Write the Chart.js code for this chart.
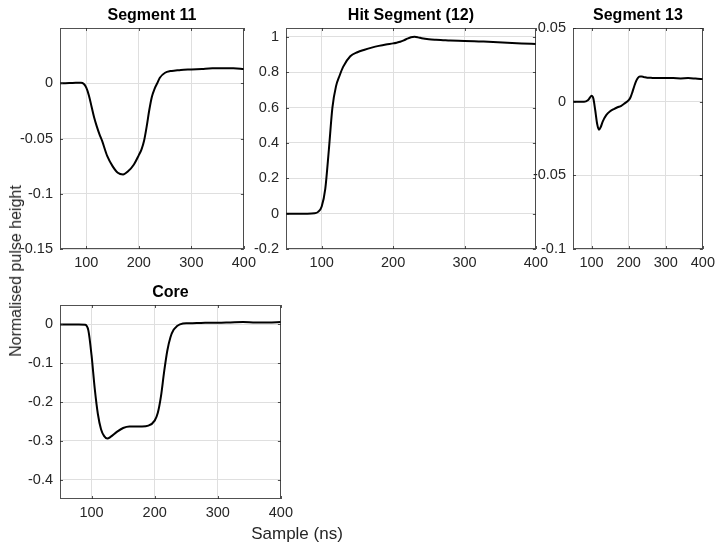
<!DOCTYPE html>
<html lang="en">
<head>
<meta charset="utf-8">
<script src="https://cdn.jsdelivr.net/npm/chart.js"></script>
<style>
    html, body { margin: 0; padding: 0; background: #fff; overflow: hidden; }
    #fig {
        position: relative; width: 718px; height: 553px;
        font-family: "Liberation Sans", Arial, Helvetica, sans-serif; color: #262626;
    }
    #fig canvas { position: absolute; }
    .lbl { position: absolute; font-size: 17px; white-space: nowrap; }
    #ylab { left: 16px; top: 271px; font-size: 16px; transform: translate(-50%, -50%) rotate(-90deg); }
    #xlab { left: 297px; top: 534px; transform: translate(-50%, -50%); }
</style>
</head>
<body>
<div id="fig">
    <canvas id="seg11"></canvas>
    <canvas id="hit"></canvas>
    <canvas id="seg13"></canvas>
    <canvas id="core"></canvas>
    <div id="ylab" class="lbl">Normalised pulse height</div>
    <div id="xlab" class="lbl">Sample (ns)</div>
</div>
<script>
    // sample times (ns) shared by all four traces
    const samples = [50, 60, 70, 80, 90, 95, 100, 105, 110, 115, 120, 125, 130, 140, 150, 160, 170, 180, 190, 200,
                     205, 210, 215, 220, 225, 230, 235, 240, 250, 260, 270, 280, 300, 320, 340, 360, 380, 400];

    const seg11 = [0, 0, 0.0002, 0.0005, 0.0005, -0.0005, -0.004, -0.011, -0.021, -0.031, -0.039, -0.046, -0.052, -0.066, -0.075, -0.081, -0.0825, -0.0795, -0.074, -0.065,
                   -0.060, -0.052, -0.039, -0.024, -0.012, -0.005, 0.000, 0.005, 0.0095, 0.011, 0.0115, 0.012, 0.0125, 0.013, 0.0135, 0.0135, 0.0135, 0.013];
    const hit12 = [0, 0, 0, 0, 0.002, 0.01, 0.04, 0.14, 0.36, 0.60, 0.72, 0.78, 0.83, 0.89, 0.913, 0.927, 0.939, 0.949, 0.957, 0.963,
                   0.967, 0.972, 0.98, 0.99, 0.998, 1.0, 0.997, 0.992, 0.986, 0.983, 0.981, 0.979, 0.977, 0.974, 0.971, 0.967, 0.963, 0.96];
    const seg13 = [0, 0, 0, 0, 0.001, 0.0025, 0.004, 0.002, -0.006, -0.015, -0.019, -0.017, -0.0135, -0.009, -0.0065, -0.005, -0.0038, -0.0028, -0.001, 0.001,
                   0.003, 0.0065, 0.0105, 0.014, 0.0162, 0.017, 0.017, 0.0168, 0.0163, 0.0162, 0.016, 0.016, 0.016, 0.016, 0.0158, 0.016, 0.0157, 0.0153];
    const core = [0, 0, 0, 0, -0.001, -0.016, -0.08, -0.165, -0.231, -0.27, -0.288, -0.294, -0.29, -0.277, -0.267, -0.263, -0.263, -0.263, -0.261, -0.248,
                  -0.228, -0.185, -0.122, -0.068, -0.033, -0.014, -0.005, 0.000, 0.003, 0.003, 0.0035, 0.004, 0.004, 0.005, 0.006, 0.005, 0.005, 0.006];

    // tick labels
    const sampleTicks = [100, 200, 300, 400];
    const seg11Ticks = [-0.15, -0.1, -0.05, 0];
    const hitTicks = [-0.2, 0, 0.2, 0.4, 0.6, 0.8, 1];
    const seg13Ticks = [-0.1, -0.05, 0, 0.05];
    const coreTicks = [-0.4, -0.3, -0.2, -0.1, 0];

    const fontFamily = '"Liberation Sans", Arial, Helvetica, sans-serif';
    const textCol = '#262626';
    const gridCol = '#dfdfdf';

    // matlab style box with little inward ticks on all four sides
    const boxPlugin = {
        id: 'box',
        afterDatasetsDraw(chart) {
            const ctx = chart.ctx;
            const a = chart.chartArea;
            const x = chart.scales.x, y = chart.scales.y;
            ctx.save();
            ctx.strokeStyle = 'rgba(38,38,38,0.8)';
            ctx.lineWidth = 1;
            ctx.beginPath();
            x.ticks.forEach(t => {
                const px = Math.round(x.getPixelForValue(t.value)) + 0.5;
                ctx.moveTo(px, a.bottom); ctx.lineTo(px, a.bottom - 3);
                ctx.moveTo(px, a.top); ctx.lineTo(px, a.top + 3);
            });
            y.ticks.forEach(t => {
                const py = Math.round(y.getPixelForValue(t.value)) + 0.5;
                ctx.moveTo(a.left, py); ctx.lineTo(a.left + 3, py);
                ctx.moveTo(a.right, py); ctx.lineTo(a.right - 3, py);
            });
            ctx.stroke();
            ctx.strokeRect(Math.round(a.left) + 0.5, Math.round(a.top) + 0.5,
                           Math.round(a.width) - 1, Math.round(a.height) - 1);
            ctx.restore();
        }
    };

    function makePanel(id, box, title, values, yMin, yMax, yTicks, padR) {
        const padL = 50, padT = 28, padB = 30;
        const cv = document.getElementById(id);
        cv.width = box.r - box.l + padL + padR;
        cv.height = box.b - box.t + padT + padB;
        cv.style.left = (box.l - padL) + 'px';
        cv.style.top = (box.t - padT) + 'px';

        const points = samples.map((s, i) => ({ x: s, y: values[i] }));

        new Chart(cv, {
            type: 'line',
            data: {
                datasets: [{
                    data: points,
                    borderColor: '#000',
                    borderWidth: 2,
                    pointRadius: 0,
                    cubicInterpolationMode: 'monotone',
                    fill: false
                }]
            },
            options: {
                responsive: false,
                animation: false,
                events: [],
                layout: { padding: { left: 0, right: padR, top: 0, bottom: 0 } },
                plugins: {
                    legend: { display: false },
                    tooltip: { enabled: false },
                    title: {
                        display: true,
                        text: title,
                        fullSize: false,
                        color: '#000',
                        font: { family: fontFamily, size: 16, weight: 'bold', lineHeight: 1 },
                        padding: { top: 8, bottom: 4 }
                    }
                },
                scales: {
                    x: {
                        type: 'linear',
                        min: 50,
                        max: 400,
                        afterBuildTicks: s => { s.ticks = sampleTicks.map(v => ({ value: v })); },
                        afterFit: s => { s.height = padB; },
                        grid: { color: gridCol, drawTicks: false },
                        border: { display: false },
                        ticks: {
                            padding: 5, color: textCol, maxRotation: 0,
                            font: { family: fontFamily, size: 14.5 },
                            callback: v => String(v)
                        }
                    },
                    y: {
                        type: 'linear',
                        min: yMin,
                        max: yMax,
                        afterBuildTicks: s => { s.ticks = yTicks.map(v => ({ value: v })); },
                        afterFit: s => { s.width = padL; },
                        grid: { color: gridCol, drawTicks: false },
                        border: { display: false },
                        ticks: {
                            padding: 7, color: textCol,
                            font: { family: fontFamily, size: 14.5 },
                            callback: v => String(v)
                        }
                    }
                }
            },
            plugins: [boxPlugin]
        });
    }

    makePanel('seg11', { l: 60, t: 28, r: 245, b: 249 }, 'Segment 11', seg11, -0.15, 0.05, seg11Ticks, 16);
    makePanel('hit', { l: 286, t: 28, r: 537, b: 249 }, 'Hit Segment (12)', hit12, -0.2, 1.05, hitTicks, 16);
    makePanel('seg13', { l: 573, t: 28, r: 706, b: 249 }, 'Segment 13', seg13, -0.1, 0.05, seg13Ticks, 14);
    makePanel('core', { l: 60, t: 305, r: 282, b: 499 }, 'Core', core, -0.45, 0.05, coreTicks, 16);
</script>
</body>
</html>
